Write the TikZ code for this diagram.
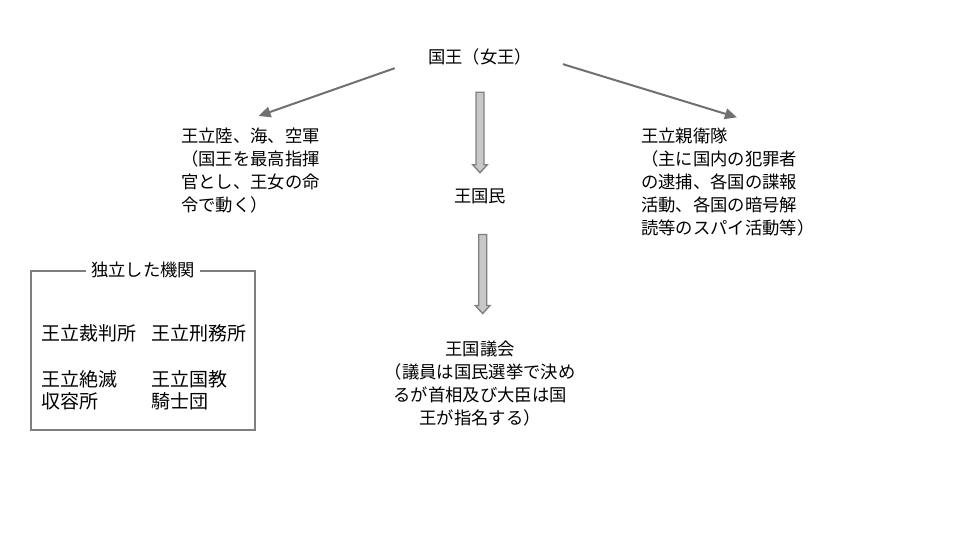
\documentclass[tikz,border=0pt]{standalone}
\usepackage{fontspec}
\usepackage{tikz}
\usepackage{xcolor}
\usetikzlibrary{calc,arrows.meta}
\newfontfamily\jpfont{Noto Sans CJK JP}
\definecolor{linegray}{HTML}{707070}
\definecolor{boxgray}{HTML}{7F7F7F}
\definecolor{arrowfill}{HTML}{C8C8C8}

\begin{document}
\begin{tikzpicture}[x=0.75pt,y=-0.75pt]
    \tikzstyle{every node}=[font=\jpfont\fontsize{13pt}{17.25pt}\selectfont, inner sep=0pt]
    \tikzstyle{inner}=[anchor=north west, align=left, font=\jpfont\fontsize{14.25pt}{16.5pt}\selectfont]
    \tikzstyle{line arrow}=[draw=linegray, line width=1.5pt, -{Triangle[length=9pt,width=8pt]}]
    \tikzstyle{block arrow}=[draw=boxgray, line width=1pt, fill=arrowfill, to path={let \p1=(\tikztostart), \p2=(\tikztotarget) in (\x1-3pt,\y1) -- (\x1-3pt,\y2+6pt) -- (\x1-5.5pt,\y2+6pt) -- (\x1,\y2) -- (\x1+5.5pt,\y2+6pt) -- (\x1+3pt,\y2+6pt) -- (\x1+3pt,\y1) -- cycle}]
    \useasboundingbox (0,0) rectangle (960,540);
    
    \node (1) at (480,57) {国王（女王）};
    \node[anchor=north west, align=left] (2) at (181,128) {王立陸、海、空軍\\（国王を最高指揮\\官とし、王女の命\\令で動く）};
    \node[anchor=north west, align=left] (3) at (641,128) {王立親衛隊\\（主に国内の犯罪者\\の逮捕、各国の諜報\\活動、各国の暗号解\\読等のスパイ活動等）};
    \node (4) at (480,196) {王国民};
    \node[anchor=north, align=center] (5) at ($(4)+(0,145)$) {王国議会\\（議員は国民選挙で決め\\るが首相及び大臣は国\\王が指名する）};
    
    \draw[line arrow] ([xshift=-24.75pt,yshift=-2pt]1.south west) to ([xshift=6pt,yshift=9pt]2.north);
    \draw[line arrow] ([xshift=23pt,yshift=1pt]1.south east) to ([xshift=6.75pt,yshift=8pt]3.north);
    \draw[block arrow] ([yshift=-20pt]1.south) to ([yshift=11.6pt]4.north);
    \draw[block arrow] ([xshift=2pt,yshift=-23pt]4.south) to ([xshift=2pt,yshift=20.6pt]5.north);
    
    % independent bodies
    \draw[boxgray, line width=1.2pt] (31,271) rectangle (255,430);
    \node[fill=white, inner xsep=4pt] (6) at (143,270) {独立した機関};
    \node[inner] (7) at (41,324) {王立裁判所};
    \node[inner] (8) at (151,324) {王立刑務所};
    \node[inner] (9) at ($(7.north west)+(0,46)$) {王立絶滅\\収容所};
    \node[inner] (10) at ($(8.north west)+(0,46)$) {王立国教\\騎士団};
\end{tikzpicture}
\end{document}
